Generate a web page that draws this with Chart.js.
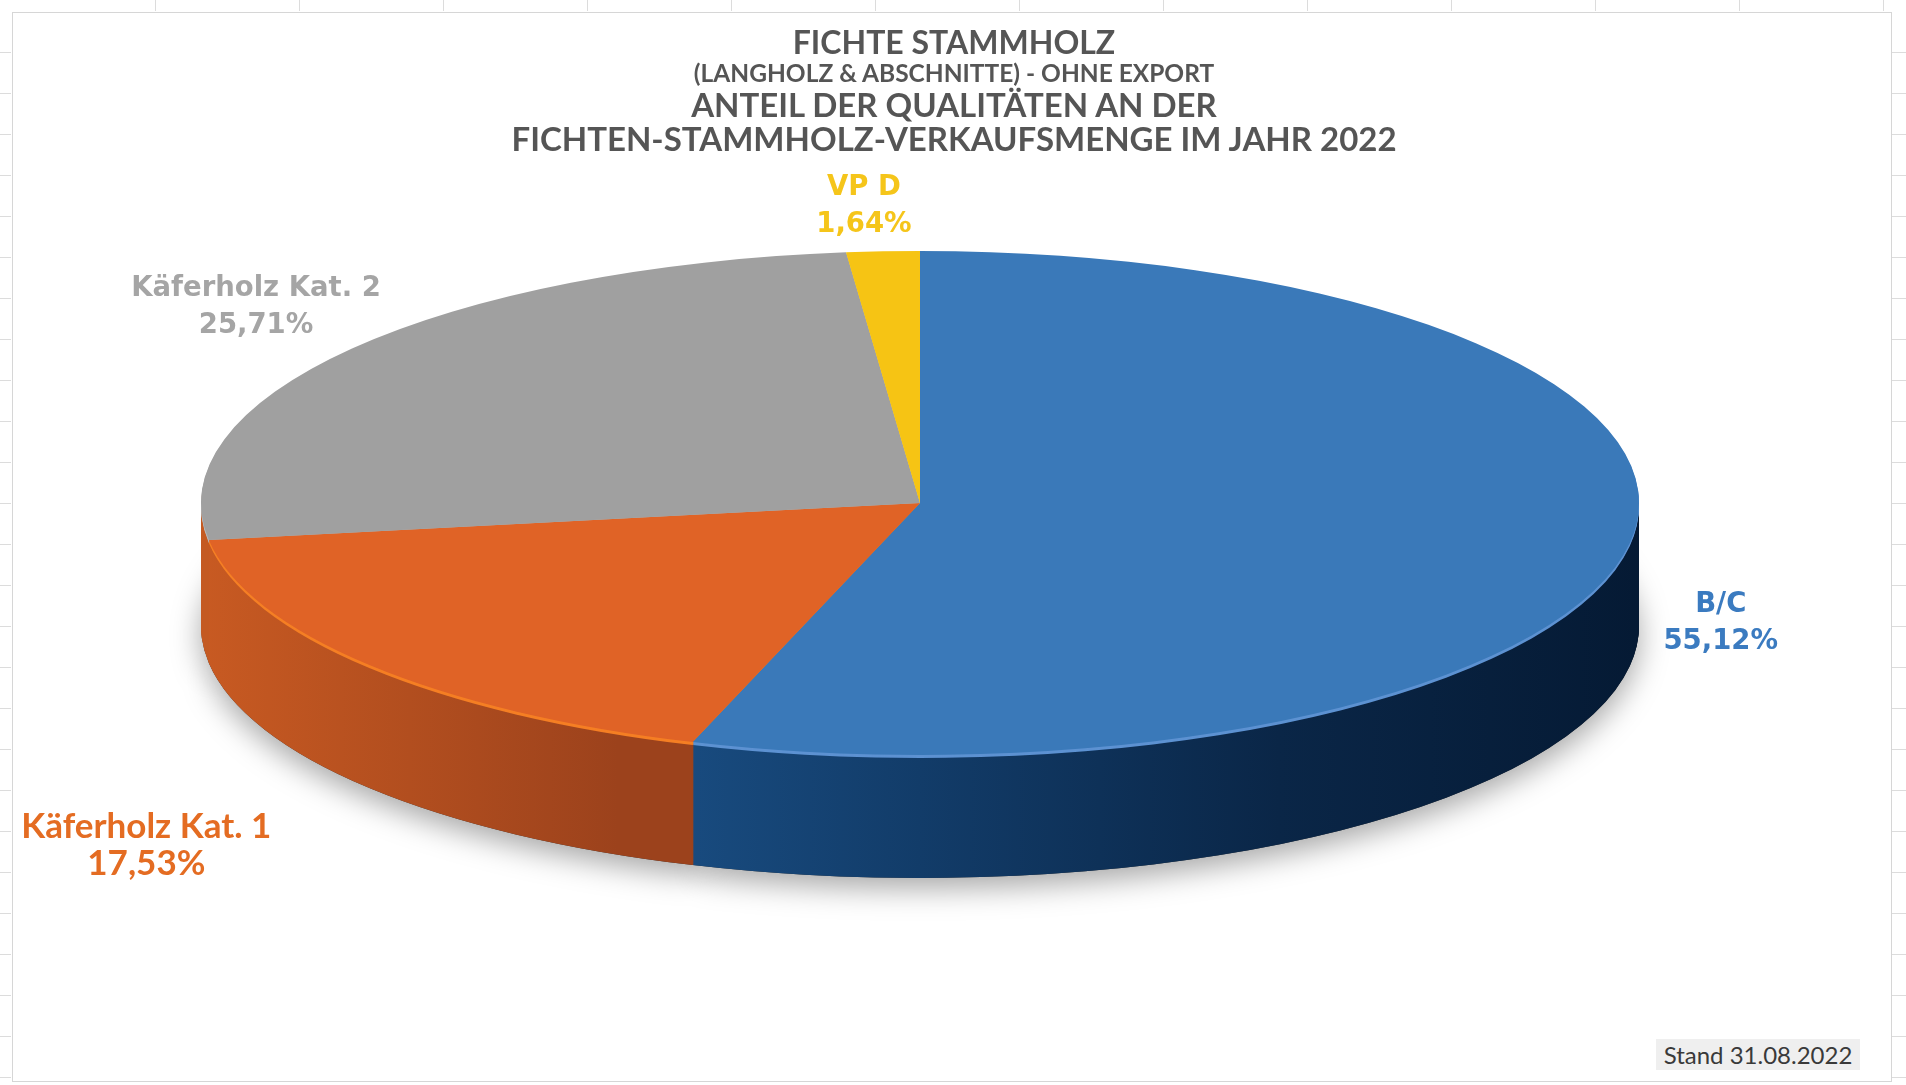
<!DOCTYPE html>
<html>
<head>
<meta charset="utf-8">
<script src="https://cdn.jsdelivr.net/npm/chart.js@4/dist/chart.umd.min.js"></script>
<style>
  body { margin: 0; background: #fff; }
  #wrap { position: relative; width: 1906px; height: 1085px; overflow: hidden; background: #fff; }
  #frame { position: absolute; left: 12px; top: 12px; width: 1878px; height: 1068px; border: 1px solid #d6d6d6; }
  .ticksL { position: absolute; left: 0; top: 12px; width: 11px; height: 1073px;
    background: repeating-linear-gradient(to bottom, transparent 0 40px, #dcdcdc 40px 41px); }
  .ticksR { position: absolute; left: 1892px; top: 12px; width: 14px; height: 1073px;
    background: repeating-linear-gradient(to bottom, transparent 0 40px, #dcdcdc 40px 41px); }
  .ticksT { position: absolute; left: 12px; top: 0; width: 1880px; height: 11px;
    background: repeating-linear-gradient(to right, transparent 0 143px, #dcdcdc 143px 144px); }
  canvas { position: absolute; left: 0; top: 0; }
  .t { position: absolute; left: 0; width: 1908px; text-align: center; font-family: Lato, sans-serif;
       font-weight: 700; color: #555; white-space: nowrap; line-height: 1; transform: translateY(-50%); }
  #stand { position: absolute; left: 1656px; top: 1039px; width: 204px; height: 31px; background: #efefef;
           font-family: Lato, sans-serif; font-size: 24px; color: #3a3a3a; line-height: 31px; text-align: center; }
</style>
</head>
<body>
<div id="wrap">
  <div class="ticksL"></div><div class="ticksR"></div><div class="ticksT"></div>
  <div id="frame"></div>
  <canvas id="myChart"></canvas>
  <div class="t" style="top:42px;font-size:32px">FICHTE STAMMHOLZ</div>
  <div class="t" style="top:73px;font-size:24.5px">(LANGHOLZ &amp; ABSCHNITTE) - OHNE EXPORT</div>
  <div class="t" style="top:104px;font-size:33px">ANTEIL DER QUALITÄTEN AN DER</div>
  <div class="t" style="top:138px;font-size:33px">FICHTEN-STAMMHOLZ-VERKAUFSMENGE IM JAHR 2022</div>
  <div id="stand">Stand 31.08.2022</div>
</div>
<script>
// data
const categories = ["B/C", "Käferholz Kat. 1", "Käferholz Kat. 2", "VP D"];
const shares = [55.12, 17.53, 25.71, 1.64];

const topColors = ["#3a79b9", "#e06326", "#a0a0a0", "#f6c414"];
const rimColors = ["#5d92d2", "#f57f24", "#b8b8b8", "#ffd84a"];
const sideStops = [
    [[0, "#1d5590"], [0.29, "#1a4f85"], [0.5, "#123c69"], [0.75, "#0a2647"], [1, "#051a34"]],
    [[0, "#c85a22"], [0.29, "#9c421c"], [1, "#9c421c"]],
    [[0, "#c45a22"], [1, "#c45a22"]],
    [[0, "#b48d06"], [1, "#9a7800"]]
];
const labelColors = ["#3b7bc0", "#e46c22", "#a5a5a5", "#f5c51a"];
const labelFonts = ["bold 27.5px 'DejaVu Sans'", "bold 35px Lato", "bold 27.5px 'DejaVu Sans'", "bold 27.5px 'DejaVu Sans'"];
// where each label sits, relative to the rim point at the middle of its slice
const labelShift = [[91, 79], [-223, 180], [-96, -42], [-19, -45]];

// 3d look: the flat pie is squashed to this ellipse and given a side wall
const ellipseW = 719;
const ellipseH = 252;
const depth = 123;

function fmt(v) {
    return v.toFixed(2).replace(".", ",") + "%";
}

function drawArcAs(ctx, arc, dy, fill, sx, sy) {
    const copy = Object.create(arc);
    copy.options = Object.assign({}, arc.options, { backgroundColor: fill, borderColor: fill });
    ctx.save();
    ctx.translate(arc.x, arc.y + dy);
    ctx.scale(sx, sy);
    ctx.translate(-arc.x, -arc.y);
    arc.draw.call(copy, ctx);
    ctx.restore();
}

const pie3d = {
    id: "pie3d",
    beforeDatasetsDraw(chart) {
        const ctx = chart.ctx;
        const arcs = chart.getDatasetMeta(0).data;
        const r = arcs[0].outerRadius;
        const sx = ellipseW / r, sy = ellipseH / r;
        const cx = arcs[0].x;

        const sides = sideStops.map(stops => {
            const g = ctx.createLinearGradient(cx - r, 0, cx + r, 0);
            stops.forEach(s => g.addColorStop(s[0], s[1]));
            return g;
        });

        // soft shadow under the disc
        ctx.save();
        ctx.shadowColor = "rgba(0,0,0,0.35)";
        ctx.shadowBlur = 30;
        ctx.shadowOffsetY = 10;
        arcs.forEach((arc, i) => drawArcAs(ctx, arc, depth, "#333", sx, sy));
        ctx.restore();

        for (let d = depth; d >= 1; d--) {
            arcs.forEach((arc, i) => {
                const fill = d <= 3 ? rimColors[i] : sides[i];
                drawArcAs(ctx, arc, d, fill, sx, sy);
            });
        }
        arcs.forEach((arc, i) => drawArcAs(ctx, arc, 0, topColors[i], sx, sy));
        return false;
    },
    afterDraw(chart) {
        const ctx = chart.ctx;
        const arcs = chart.getDatasetMeta(0).data;
        ctx.save();
        ctx.textAlign = "center";
        ctx.textBaseline = "middle";
        arcs.forEach((arc, i) => {
            const a = (arc.startAngle + arc.endAngle) / 2;
            const x = arc.x + ellipseW * Math.cos(a) + labelShift[i][0];
            const y = arc.y + ellipseH * Math.sin(a) + labelShift[i][1];
            ctx.font = labelFonts[i];
            ctx.fillStyle = labelColors[i];
            ctx.fillText(categories[i], x, y - 18);
            ctx.fillText(fmt(shares[i]), x, y + 19);
        });
        ctx.restore();
    }
};

const inputs = {
    labels: categories,
    datasets: [{
        data: shares,
        backgroundColor: topColors,
        borderWidth: 0
    }]
};

const config = {
    type: "pie",
    data: inputs,
    options: {
        responsive: false,
        animation: false,
        layout: { padding: { left: 0, top: 0, right: 66, bottom: 79 } },
        plugins: {
            legend: { display: false },
            tooltip: { enabled: false }
        }
    },
    plugins: [pie3d]
};

const canvas = document.getElementById("myChart");
canvas.width = 1906;
canvas.height = 1085;
var myChart = new Chart(canvas, config);
</script>
</body>
</html>
